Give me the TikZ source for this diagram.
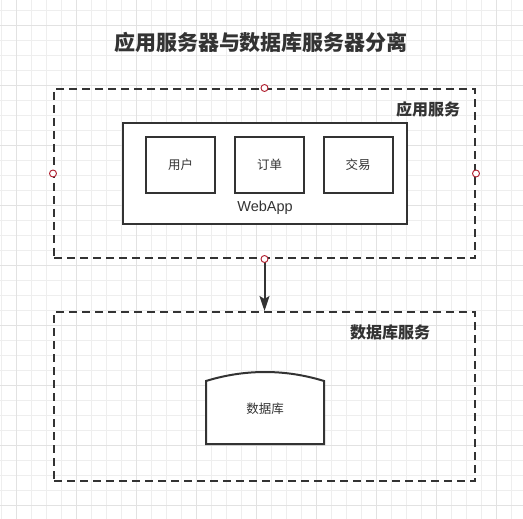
\documentclass[tikz,border=0pt]{standalone}
\usepackage{fontspec}
\setmainfont{Noto Sans CJK SC}
\newfontfamily\latinsans{Liberation Sans}
\usetikzlibrary{arrows.meta}
\definecolor{ink}{HTML}{333333}
\definecolor{pin}{HTML}{B01E2E}
\definecolor{gridminor}{HTML}{EEEEEE}
\definecolor{gridmajor}{HTML}{E2E2E2}
\tikzset{
  group/.style={draw=ink, line width=2pt, dash pattern=on 8pt off 5pt, minimum width=421pt, minimum height=169pt, inner sep=0pt},
  solidbox/.style={draw=ink, line width=2pt, fill=white, inner sep=0pt},
  module/.style={solidbox, minimum width=69pt, minimum height=56pt, text=ink, font=\fontsize{12.5}{14}\selectfont},
  pinpt/.style={circle, draw=pin, fill=white, line width=0.9pt, minimum size=7pt, inner sep=0pt},
  grouplabel/.style={text=ink, font=\bfseries\fontsize{16}{19}\selectfont},
  flow/.style={draw=ink, line width=2pt, -{Stealth[length=15pt, width=10pt, inset=3pt]}}
}
\begin{document}
\begin{tikzpicture}[x=1pt, y=-1pt]
\useasboundingbox (0,0) rectangle (523,519);
\fill[white] (0,0) rectangle (523,519);
% background grid
\foreach \x in {1.7,16.7,...,523} \draw[gridminor, line width=0.8pt] (\x,0) -- (\x,519);
\foreach \y in {10,25,...,519} \draw[gridminor, line width=0.8pt] (0,\y) -- (523,\y);
\foreach \x in {16.7,76.7,...,523} \draw[gridmajor, line width=0.8pt] (\x,0) -- (\x,519);
\foreach \y in {25,85,...,519} \draw[gridmajor, line width=0.8pt] (0,\y) -- (523,\y);

% title
\node[text=ink, font=\bfseries\fontsize{21}{24}\selectfont] (title) at (261,42) {应用服务器与数据库服务器分离};

% application server group
\node[group] (app) at (264.5,173.5) {};
\node[grouplabel] (applabel) at (428,109) {应用服务};
\node[solidbox, minimum width=284pt, minimum height=101pt] (webapp) at (265,173.5) {};
\node[text=ink, font=\latinsans\fontsize{14.5}{16}\selectfont] (webapptext) at (265,208) {WebApp};
\node[module] (user) at (180.5,165) {用户};
\node[module] (order) at (269.5,165) {订单};
\node[module] (trade) at (358,165) {交易};

% database server group
\node[group] (db) at (264.5,396.5) {};
\node[grouplabel] (dblabel) at (390,332) {数据库服务};
\draw[ink, line width=2pt, fill=white] (206,444) -- (206,381)
  .. controls (245,369) and (285,369) .. (324,381) -- (324,444) -- cycle;
\node[text=ink, font=\fontsize{12.5}{14}\selectfont] (store) at (265,409) {数据库};

% connector
\draw[flow] (app.south) -- (db.north);

% connection points on the selected group
\node[pinpt] (pn) at (app.north) {};
\node[pinpt] (pw) at (app.west) {};
\node[pinpt] (pe) at (app.east) {};
\node[pinpt] (ps) at (app.south) {};
\end{tikzpicture}
\end{document}
